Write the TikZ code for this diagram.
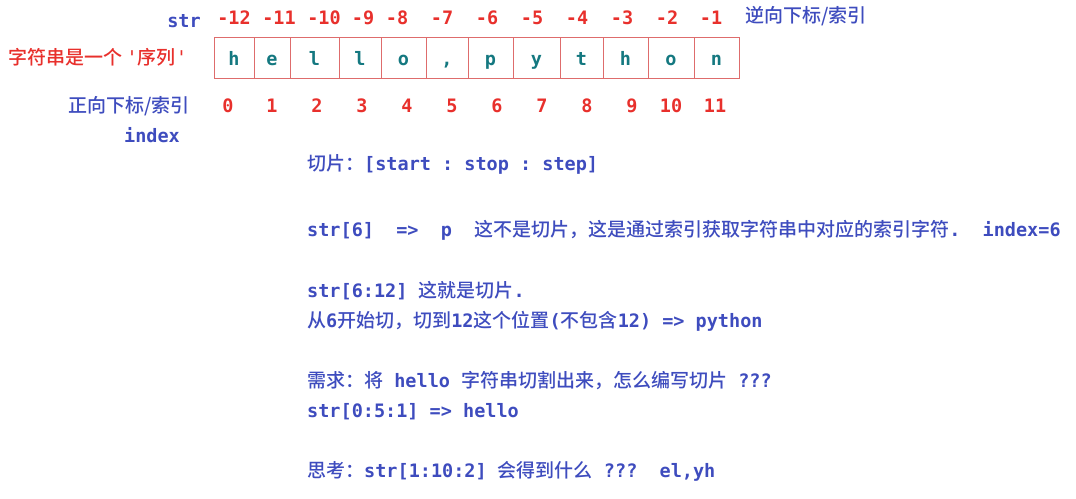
\documentclass[tikz,border=0pt]{standalone}
\usepackage{fontspec}
\setmonofont{DejaVu Sans Mono}
\newfontfamily\cjk{Noto Sans CJK SC Medium}
\usetikzlibrary{positioning}
\definecolor{idxblue}{RGB}{62,76,190}
\definecolor{idxred}{RGB}{232,48,44}
\definecolor{chrteal}{RGB}{20,120,128}
\definecolor{cellred}{RGB}{222,108,108}
\newcommand{\zh}[1]{{\cjk\mdseries\fontsize{19}{19}\selectfont #1}}

\begin{document}
\begin{tikzpicture}[
  x=1pt, y=-1pt,
  mono/.style={font=\ttfamily\bfseries\fontsize{18.5}{18.5}\selectfont, inner sep=0pt, anchor=base},
  idx/.style={mono, text=idxred},
  chr/.style={mono, text=chrteal},
  lbl/.style={font=\cjk\mdseries\fontsize{19}{19}\selectfont, inner sep=0pt, anchor=west},
  note/.style={mono, text=idxblue, anchor=base west},
  cellline/.style={draw=cellred, line width=1pt}
]
\useasboundingbox (0,0) rectangle (1076,498);

% the string, one cell per character
\foreach \xl/\xr/\ch [count=\i from 0] in {214/254/h, 254/290/e, 290/339/l, 339/381/l,
    381/426/o, 426/468/{,}, 468/513/p, 513/560/y, 560/603/t, 603/648/h, 648/694/o, 694/739/n}
{
  \draw[cellline] (\xl,37) rectangle (\xr,78);
  \node[chr] (c\i) at ({(\xl+\xr)/2},65) {\ch};
}

% negative and positive indices
\foreach \x/\n [count=\i from 0] in {234/-12, 279/-11, 324/-10, 363/-9, 397/-8, 442/-7,
    487/-6, 532/-5, 577/-4, 622/-3, 667/-2, 711/-1}
  \node[idx] (n\i) at (\x,24) {\n};
\foreach \x [count=\i from 0] in {228, 272, 317, 362, 407, 452, 497, 542, 587, 632, 671, 715}
  \node[idx] (p\i) at (\x,112) {\i};

% labels round the string
\node[mono, text=idxblue] (strlbl) at (184,27) {str};
\node[lbl, text=idxblue] (revlbl) at (745,16) {逆向下标/索引};
\node[lbl, text=idxred] (seqlbl) at (8,57) {字符串是一个 {\ttfamily '}序列{\ttfamily '}};
\node[lbl, text=idxblue] (fwdlbl) at (68,106) {正向下标/索引};
\node[mono, text=idxblue] (idxlbl) at (152,142) {index};

% notes on slicing
\node[note] (slice) at (307,170) {\zh{切片：}[start : stop : step]};
\node[note] (single) at (307,236) {str[6]\ \ =>\ \ p\ \ \zh{这不是切片，这是通过索引获取字符串中对应的索引字符}.\ \ index=6};
\node[note] (range) at (307,297) {str[6:12] \zh{这就是切片}.};
\node[note] (rangeex) at (307,327) {\zh{从}6\zh{开始切，切到}12\zh{这个位置}(\zh{不包含}12) => python};
\node[note] (task) at (307,387) {\zh{需求：将} hello \zh{字符串切割出来，怎么编写切片} ???};
\node[note] (answer) at (307,417) {str[0:5:1] => hello};
\node[note] (think) at (307,477) {\zh{思考：}str[1:10:2] \zh{会得到什么} ???\ \ el,yh};
\end{tikzpicture}
\end{document}
